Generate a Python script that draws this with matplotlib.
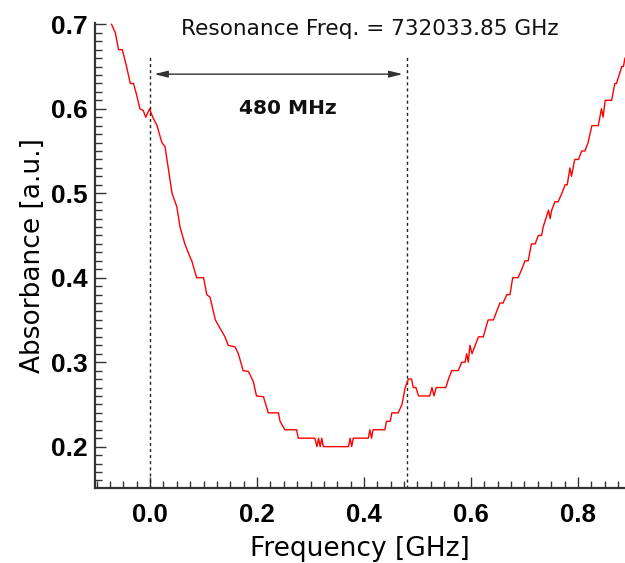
import matplotlib
matplotlib.use("Agg")
import matplotlib.pyplot as plt
from matplotlib.ticker import MultipleLocator

# Data (GHz offset, absorbance a.u.)
freq = [-0.072, -0.065, -0.059, -0.052, -0.044, -0.037, -0.031, -0.025, -0.019, -0.013,
        -0.008, -0.001, 0.005, 0.013, 0.022, 0.028, 0.034, 0.041, 0.050, 0.056,
        0.065, 0.075, 0.078, 0.087, 0.100, 0.106, 0.112, 0.122, 0.131, 0.140,
        0.146, 0.159, 0.165, 0.174, 0.184, 0.193, 0.199, 0.212, 0.221, 0.240,
        0.243, 0.252, 0.274, 0.277, 0.308, 0.312, 0.315, 0.318, 0.321, 0.324,
        0.371, 0.374, 0.377, 0.380, 0.408, 0.411, 0.414, 0.417, 0.439, 0.442,
        0.449, 0.452, 0.464, 0.471, 0.477, 0.483, 0.489, 0.492, 0.497, 0.502,
        0.523, 0.527, 0.531, 0.535, 0.553, 0.558, 0.564, 0.576, 0.583, 0.589,
        0.592, 0.595, 0.598, 0.602, 0.608, 0.614, 0.623, 0.632, 0.642, 0.648,
        0.654, 0.660, 0.667, 0.673, 0.678, 0.688, 0.695, 0.701, 0.707, 0.713,
        0.720, 0.726, 0.732, 0.735, 0.745, 0.748, 0.751, 0.757, 0.763, 0.770,
        0.776, 0.780, 0.785, 0.788, 0.794, 0.801, 0.807, 0.813, 0.819, 0.826,
        0.838, 0.844, 0.847, 0.851, 0.863, 0.869, 0.872, 0.877, 0.882, 0.885,
        0.888]
absorb = [0.700, 0.690, 0.670, 0.670, 0.650, 0.630, 0.630, 0.616, 0.600, 0.598,
          0.590, 0.600, 0.590, 0.580, 0.560, 0.555, 0.530, 0.500, 0.484, 0.460,
          0.440, 0.424, 0.420, 0.400, 0.400, 0.380, 0.377, 0.350, 0.340, 0.330,
          0.320, 0.318, 0.310, 0.290, 0.289, 0.277, 0.260, 0.259, 0.240, 0.240,
          0.230, 0.220, 0.220, 0.210, 0.210, 0.200, 0.210, 0.200, 0.210, 0.200,
          0.200, 0.210, 0.200, 0.210, 0.210, 0.220, 0.210, 0.220, 0.220, 0.230,
          0.230, 0.240, 0.240, 0.250, 0.270, 0.280, 0.280, 0.270, 0.270, 0.260,
          0.260, 0.270, 0.260, 0.270, 0.270, 0.280, 0.290, 0.290, 0.300, 0.300,
          0.310, 0.300, 0.320, 0.310, 0.320, 0.330, 0.330, 0.350, 0.350, 0.360,
          0.370, 0.370, 0.380, 0.380, 0.400, 0.400, 0.410, 0.420, 0.420, 0.440,
          0.440, 0.450, 0.450, 0.460, 0.480, 0.470, 0.480, 0.490, 0.490, 0.500,
          0.510, 0.510, 0.530, 0.520, 0.540, 0.540, 0.550, 0.550, 0.560, 0.580,
          0.580, 0.600, 0.590, 0.610, 0.610, 0.630, 0.630, 0.640, 0.650, 0.650,
          0.660]

marker_lines = [0.0, 0.48]
xticks = [0.0, 0.2, 0.4, 0.6, 0.8]
yticks = [0.2, 0.3, 0.4, 0.5, 0.6, 0.7]
title_text = "Resonance Freq. = 732033.85 GHz"
width_text = "480 MHz"

fig = plt.figure(figsize=(6.25, 5.63), dpi=100)
ax = fig.add_axes([0.152, 0.1332, 0.848, 0.8251])

ax.plot(freq, absorb, color="#ff0000", lw=1.0, zorder=3)

for xv in marker_lines:
    ax.plot([xv, xv], [0.10, 0.661], color="#222222", lw=1.0,
            linestyle=(0, (2.2, 2.2)), zorder=2)

ax.annotate("", xy=(marker_lines[0], 0.641), xytext=(marker_lines[1], 0.641),
            arrowprops=dict(arrowstyle="<|-|>,head_length=0.8,head_width=0.2",
                            color="#333333", lw=1.0, shrinkA=3, shrinkB=3))
ax.text(0.258, 0.6006, width_text, ha="center", va="center",
        fontsize=14.5, fontweight="bold", color="#111111")
ax.text(0.41, 0.694, title_text, ha="center", va="center",
        fontsize=15.6, color="#111111")

ax.set_xlim(-0.103, 0.888)
ax.set_ylim(0.151, 0.701)
ax.set_xticks(xticks)
ax.set_yticks(yticks)
ax.set_xticklabels([f"{v:.1f}" for v in xticks])
ax.set_yticklabels([f"{v:.1f}" for v in yticks])
ax.xaxis.set_minor_locator(MultipleLocator(0.025))
ax.yaxis.set_minor_locator(MultipleLocator(0.01))

for s in ["top", "right"]:
    ax.spines[s].set_visible(False)
for s in ["left", "bottom"]:
    ax.spines[s].set_linewidth(1.6)
    ax.spines[s].set_color("#333333")

ax.tick_params(axis="both", which="major", direction="in", length=8, width=1.0,
               color="#333333")
ax.tick_params(axis="both", which="minor", direction="in", length=5, width=1.0,
               color="#333333")
ax.tick_params(axis="x", which="major", pad=11)
ax.tick_params(axis="y", which="major", pad=5)

for lab in ax.get_yticklabels():
    lab.set_fontfamily("Liberation Sans")
    lab.set_fontweight("bold")
    lab.set_fontsize(19)
for lab in ax.get_xticklabels():
    lab.set_fontfamily("Liberation Sans")
    lab.set_fontweight("bold")
    lab.set_fontsize(18.5)

ax.set_xlabel("Frequency [GHz]", fontsize=19, labelpad=6)
ax.set_ylabel("Absorbance [a.u.]", fontsize=19, labelpad=4)

fig.savefig("out.png", dpi=100)
